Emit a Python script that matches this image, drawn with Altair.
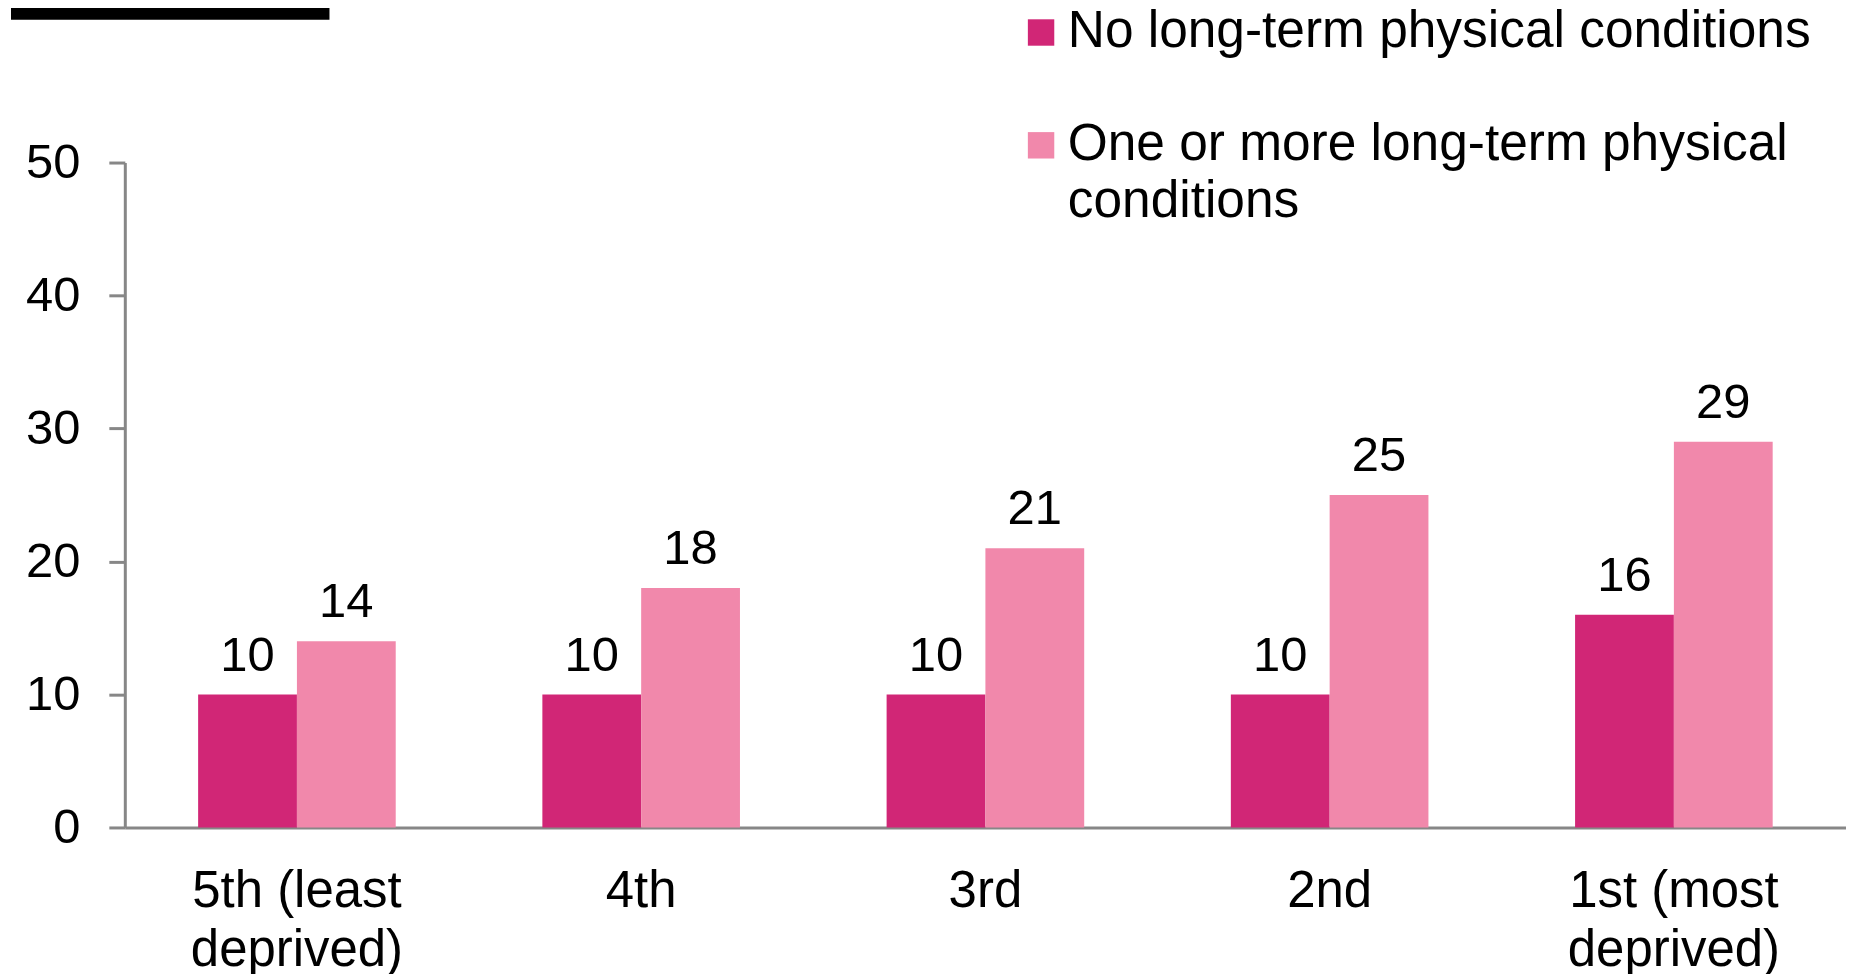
import altair as alt
import pandas as pd

# ---- data ----
quintiles = ["5th (least\ndeprived)", "4th", "3rd", "2nd", "1st (most\ndeprived)"]
series = ["No long-term physical conditions", "One or more long-term physical conditions"]
no_ltc = [10, 10, 10, 10, 16]
one_plus_ltc = [14, 18, 21, 25, 29]
colors = ["#D12676", "#F188AB"]

rows = []
for q, a, b in zip(quintiles, no_ltc, one_plus_ltc):
    rows.append({"quintile": q, "series": series[0], "value": a})
    rows.append({"quintile": q, "series": series[1], "value": b})
df = pd.DataFrame(rows)

FONT = "Liberation Sans"
GRAY = "#878787"

x_enc = alt.X(
    "quintile:N",
    sort=quintiles,
    title=None,
    scale=alt.Scale(paddingInner=0.426, paddingOuter=0.213),
    axis=alt.Axis(
        labelAngle=0,
        labelFontSize=51,
        labelFont=FONT,
        labelColor="black",
        labelExpr="split(datum.label, '\\n')",
        labelLineHeight=59,
        labelBaseline="top",
        labelPadding=39,
        ticks=False,
        domainColor=GRAY,
        domainWidth=3,
        grid=False,
        labelLimit=1000,
    ),
)
xo_enc = alt.XOffset("series:N", sort=series)
y_enc = alt.Y(
    "value:Q",
    title=None,
    scale=alt.Scale(domain=[0, 50], nice=False, zero=True),
    axis=alt.Axis(
        values=[0, 10, 20, 30, 40, 50],
        labelFontSize=49,
        labelFont=FONT,
        labelColor="black",
        labelPadding=29,
        tickSize=16,
        tickColor=GRAY,
        tickWidth=3,
        domainColor=GRAY,
        domainWidth=3,
        grid=False,
    ),
)

legend = alt.Legend(
    title=None,
    orient="none",
    legendX=892,
    legendY=-156,
    padding=0,
    symbolType="square",
    symbolSize=700,
    symbolStrokeWidth=0,
    symbolOpacity=1,
    labelFontSize=51.5,
    labelFont=FONT,
    labelColor="black",
    labelLimit=2000,
    labelOffset=1,
    labelBaseline="middle",
    rowPadding=3,
    labelExpr="datum.label == 'One or more long-term physical conditions' ? ['One or more long-term physical', 'conditions'] : [datum.label, '']",
)

color_enc = alt.Color(
    "series:N",
    scale=alt.Scale(domain=series, range=colors),
    legend=legend,
)

base = alt.Chart(df)
bars = base.mark_bar(opacity=1).encode(x=x_enc, xOffset=xo_enc, y=y_enc, color=color_enc)
labels = base.mark_text(
    baseline="alphabetic", dy=-24, fontSize=49, font=FONT, color="black"
).encode(x=x_enc, xOffset=xo_enc, y=y_enc, text="value:Q")

# redacted title block at top-left
block = alt.Chart(pd.DataFrame({"k": [0]})).mark_rect(color="black").encode(
    x=alt.value(-114), x2=alt.value(205), y=alt.value(-170), y2=alt.value(-143)
)

chart = (
    alt.layer(bars, labels, block)
    .properties(
        width=1724,
        height=666,
        autosize=alt.AutoSizeParams(type="none"),
        padding={"left": 117, "top": 154, "right": 0, "bottom": 150},
    )
    .configure(
        view=alt.ViewConfig(stroke=None),
        style={"guide-label": {"lineHeight": 57}},
    )
)

chart.save("out.html", embed_options={"renderer": "svg", "actions": False})
